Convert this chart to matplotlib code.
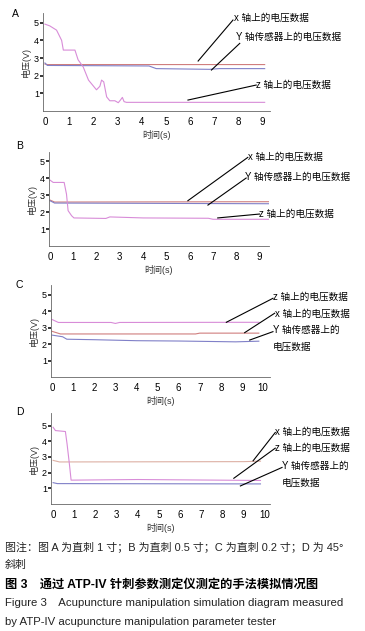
import matplotlib
matplotlib.use('Agg')
import matplotlib.pyplot as plt
import numpy as np

plt.rcParams['font.family'] = ['Liberation Sans', 'Noto Sans CJK SC', 'DejaVu Sans']

# 面板 A 的数据（时间 s，电压 V）
a_z_t = [0, 0.2, 0.48, 0.69, 0.76, 1.24, 1.37, 1.58, 1.8, 2.13, 2.27, 2.34, 2.43, 2.55, 2.68, 2.89, 3.03, 3.12, 3.2, 3.27, 3.37, 9.08]
a_z_v = [4.92, 4.82, 4.58, 4.0, 3.45, 3.45, 2.9, 2.5, 1.75, 1.2, 1.4, 1.75, 1.65, 0.8, 0.58, 0.58, 0.47, 0.62, 0.77, 0.53, 0.49, 0.49]
a_x_t = [0, 0.1, 9.08]
a_x_v = [2.66, 2.63, 2.63]
a_y_t = [0, 0.1, 4.3, 4.6, 6.8, 7.2, 9.08]
a_y_v = [2.72, 2.58, 2.55, 2.4, 2.36, 2.4, 2.4]

# 面板 B
b_z_t = [0, 0.14, 0.61, 0.71, 0.78, 0.93, 1.03, 2.4, 2.57, 4.0, 6.8, 7.0, 9.4]
b_z_v = [3.9, 3.76, 3.76, 3.07, 2.09, 1.79, 1.66, 1.63, 1.72, 1.66, 1.64, 1.58, 1.58]
b_x_t = [0, 0.2, 9.4]
b_x_v = [2.72, 2.6, 2.62]
b_y_t = [0, 0.2, 9.4]
b_y_v = [2.68, 2.54, 2.5]

# 面板 C
c_z_t = [0, 0.3, 2.8, 3.0, 3.2, 9.8]
c_z_v = [3.5, 3.32, 3.32, 3.26, 3.32, 3.33]
c_x_t = [0, 0.4, 6.8, 7.0, 9.8]
c_x_v = [2.78, 2.62, 2.62, 2.67, 2.67]
c_y_t = [0, 0.5, 0.7, 2.0, 4.0, 6.0, 8.7, 9.8]
c_y_v = [2.55, 2.45, 2.3, 2.27, 2.21, 2.19, 2.14, 2.18]

# 面板 D
d_z_t = [0, 0.11, 0.58, 0.66, 0.77, 0.85, 4.0, 9.8]
d_z_v = [4.89, 4.68, 4.62, 3.82, 2.54, 1.52, 1.56, 1.5]
d_x_t = [0, 0.3, 9.0, 9.8]
d_x_v = [2.78, 2.68, 2.7, 2.73]
d_y_t = [0, 0.2, 9.8]
d_y_v = [1.36, 1.3, 1.28]

lbl_x = 'x 轴上的电压数据'
lbl_z = 'z 轴上的电压数据'
lbl_y = 'Y 轴传感器上的电压数据'
lbl_y2 = 'Y 轴传感器上的\n电压数据'

c_pink = '#d88cd8'
c_red = '#d07e7e'
c_blue = '#8080c8'
c_peach = '#ddb0a4'

fig = plt.figure(figsize=(3.65, 6.31), dpi=100)

def panel(rect, letter, xlim, ylim, xticks, series, notes, letter_xy):
    ax = fig.add_axes(rect)
    for t, v, col in series:
        ax.plot(t, v, color=col, lw=0.8)
    ax.set_xlim(*xlim)
    ax.set_ylim(*ylim)
    ax.set_xticks(xticks)
    ax.set_yticks([1, 2, 3, 4, 5])
    for s in ['top', 'right']:
        ax.spines[s].set_visible(False)
    for s in ['left', 'bottom']:
        ax.spines[s].set_linewidth(0.6)
        ax.spines[s].set_color('#666666')
    ax.tick_params(axis='y', length=2.5, width=1.1, pad=0.5, labelsize=6.5)
    ax.tick_params(axis='x', length=0, pad=4, labelsize=7)
    ax.set_ylabel('电压(V)', fontsize=6.5, labelpad=2, color='#333333')
    ax.set_xlabel('时间(s)', fontsize=6.5, labelpad=2.5, color='#333333')
    fig.text(letter_xy[0], letter_xy[1], letter, fontsize=7.5, ha='left', va='center')
    for (p0, p1, txt, tpos) in notes:
        ax.plot([p0[0], p1[0]], [p0[1], p1[1]], color='black', lw=0.8, clip_on=False)
        ax.text(tpos[0], tpos[1], txt, fontsize=6.9, ha='left', va='center',
                linespacing=1.8)
    return ax

# A
panel([43/365, 1-111/631, 227/365, 98/631], 'A', (-0.08, 9.3), (0, 5.55), range(10),
      [(a_x_t, a_x_v, c_red), (a_y_t, a_y_v, c_blue), (a_z_t, a_z_v, c_pink)],
      [((6.33, 2.83), (7.77, 5.15), lbl_x, (7.8, 5.25)),
       ((6.88, 2.32), (8.05, 3.83), lbl_y, (7.9, 4.2)),
       ((5.91, 0.62), (8.73, 1.47), lbl_z, (8.73, 1.5))],
      (12/365, 1-14/631))

# B
panel([49/365, 1-246/631, 220/365, 94/631], 'B', (-0.04, 9.4), (0, 5.56), range(10),
      [(b_x_t, b_x_v, c_red), (b_y_t, b_y_v, c_blue), (b_z_t, b_z_v, c_pink)],
      [((5.92, 2.68), (8.49, 5.24), lbl_x, (8.5, 5.3)),
       ((6.78, 2.42), (8.42, 4.02), lbl_y, (8.35, 4.1)),
       ((7.2, 1.66), (8.99, 1.89), lbl_z, (8.99, 1.9))],
      (16/365, 1-146/631))

# C
panel([51/365, 1-377/631, 219/365, 92/631], 'C', (-0.05, 10.33), (0, 5.6), range(11),
      [(c_z_t, c_z_v, c_pink), (c_x_t, c_x_v, c_red), (c_y_t, c_y_v, c_blue)],
      [((8.26, 3.33), (10.47, 4.79), lbl_z, (10.47, 4.85)),
       ((9.13, 2.7), (10.55, 3.88), lbl_x, (10.55, 3.85)),
       ((9.37, 2.25), (10.47, 2.76), lbl_y2, (10.47, 2.36))],
      (16/365, 1-285/631))

# D
panel([51/365, 1-504/631, 219/365, 91/631], 'D', (-0.1, 10.25), (0, 5.8), range(11),
      [(d_x_t, d_x_v, c_peach), (d_z_t, d_z_v, c_pink), (d_y_t, d_y_v, c_blue)],
      [((9.45, 2.75), (10.5, 4.56), lbl_x, (10.5, 4.6)),
       ((8.54, 1.64), (10.5, 3.56), lbl_z, (10.5, 3.6)),
       ((8.85, 1.15), (10.82, 2.33), lbl_y2, (10.82, 1.9))],
      (16/365, 1-412/631))

# 图注
fig.text(5/365, 1-547/631, '图注：图 A 为直刺 1 寸；B 为直刺 0.5 寸；C 为直刺 0.2 寸；D 为 45°',
         fontsize=7.9, ha='left', va='center', color='#222222')
fig.text(5/365, 1-565/631, '斜刺', fontsize=7.9, ha='left', va='center', color='#222222')
fig.text(5/365, 1-585/631, '图 3\u3000通过 ATP-IV 针刺参数测定仪测定的手法模拟情况图',
         fontsize=8.8, ha='left', va='center', fontweight='bold', color='black')
fig.text(5/365, 1-603/631, 'Figure 3\u2003Acupuncture manipulation simulation diagram measured',
         fontsize=8.2, ha='left', va='center', color='#222222')
fig.text(5/365, 1-622/631, 'by ATP-IV acupuncture manipulation parameter tester',
         fontsize=8.2, ha='left', va='center', color='#222222')

fig.savefig('out.png', dpi=100)
